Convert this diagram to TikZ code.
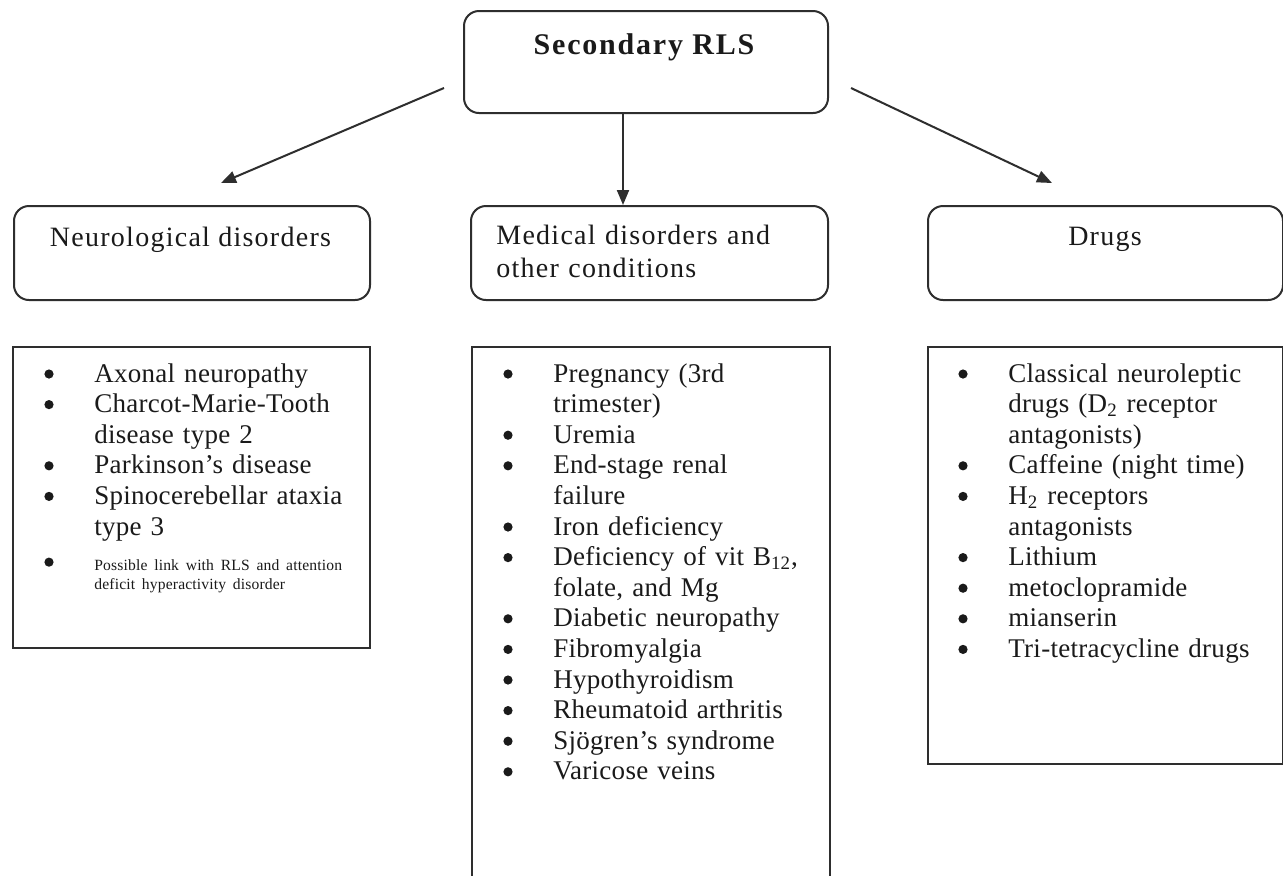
\documentclass[tikz,border=0pt]{standalone}
\usepackage{fontspec}
\setmainfont{Liberation Serif}
\usetikzlibrary{arrows.meta}
\definecolor{ln}{HTML}{2E2E2E}
\definecolor{tx}{HTML}{1A1A1A}
\newcommand\bul{\makebox[25pt][l]{\tikz[baseline=-4pt]\fill[tx] (0,0) circle (2.3pt);}}
\newcommand\bitem[1]{\noindent\hangindent=25pt\hangafter=1\bul#1\par}
\tikzset{
  rbox/.style={draw=ln, line width=1pt, rounded corners=7.5pt, inner sep=0pt, anchor=north west},
  lbox/.style={draw=ln, line width=1pt, inner sep=0pt, anchor=north west},
  arr/.style={draw=ln, line width=1pt, -{Triangle[length=7.5pt,width=6pt]}},
  hdr/.style={text=tx, inner sep=0pt, font=\fontsize{14}{16.5}\selectfont\addfontfeature{LetterSpace=4.5}},
  lst/.style={text=tx, inner sep=0pt, anchor=base west, text width=175pt, align=left,
    font=\fontsize{13.5}{15.3}\selectfont\addfontfeature{LetterSpace=1}},
}
\begin{document}
\begin{tikzpicture}[x=0.5pt, y=-0.5pt]
\useasboundingbox (0,0) rectangle (1283,875);
\clip (0,0) rectangle (1283,875);
\fill[white] (0,0) rectangle (1283,875);

% top box
\node[rbox, minimum width=182pt, minimum height=51pt] (root) at (463,10) {};
\node[text=tx, inner sep=0pt, anchor=base,
  font=\bfseries\fontsize{15}{18}\selectfont\addfontfeature{LetterSpace=6}] (title) at (644,54) {Secondary RLS};

% header boxes
\node[rbox, minimum width=178pt, minimum height=47pt] (neuh) at (13,205) {};
\node[rbox, minimum width=178.5pt, minimum height=47pt] (medh) at (470,205) {};
\node[rbox, minimum width=177.5pt, minimum height=47pt] (drgh) at (927,205) {};

\node[hdr, anchor=base] (neut) at (190.5,246) {Neurological disorders};
\node[hdr, anchor=base west, text width=160pt, align=left] (medt) at (496,244) {Medical disorders and\\ other conditions};
\node[hdr, anchor=base] (drgt) at (1105,245) {Drugs};

% arrows
\coordinate (ls) at (444,88);
\coordinate (le) at (221,183);
\coordinate (rs) at (851,88);
\coordinate (re) at (1052,183);
\coordinate (mx) at (623,0);
\draw[arr] (ls) -- (le);
\draw[arr] (root.south -| mx) -- (medh.north -| mx);
\draw[arr] (rs) -- (re);

% list boxes
\node[lbox, minimum width=178.5pt, minimum height=150.5pt] (neul) at (12,346) {};
\node[lbox, minimum width=179pt, minimum height=268pt] (medl) at (471,346) {};
\node[lbox, minimum width=177.5pt, minimum height=208.5pt] (drgl) at (927,346) {};

% list texts
\node[lst] (neux) at (44,382) {%
\bitem{Axonal neuropathy}
\bitem{Charcot-Marie-Tooth\newline disease type 2}
\bitem{Parkinson's disease}
\bitem{Spinocerebellar ataxia\newline type 3}
{\vspace{7pt}\noindent\bul\fontsize{7.8}{9.5}\selectfont\spaceskip=3.4pt plus 0.5pt
 \begin{tabular}[t]{@{}l@{}}Possible link with RLS and attention\\ deficit hyperactivity disorder\end{tabular}\par}%
};

\node[lst] (medx) at (503,382) {%
\bitem{Pregnancy (3rd\newline trimester)}
\bitem{Uremia}
\bitem{End-stage renal\newline failure}
\bitem{Iron deficiency}
\bitem{Deficiency of vit B\textsubscript{12},\newline folate, and Mg}
\bitem{Diabetic neuropathy}
\bitem{Fibromyalgia}
\bitem{Hypothyroidism}
\bitem{Rheumatoid arthritis}
\bitem{Sjögren's syndrome}
\bitem{Varicose veins}%
};

\node[lst] (drgx) at (958,382) {%
\bitem{Classical neuroleptic\newline drugs (D\textsubscript{2} receptor\newline antagonists)}
\bitem{Caffeine (night time)}
\bitem{H\textsubscript{2} receptors\newline antagonists}
\bitem{Lithium}
\bitem{metoclopramide}
\bitem{mianserin}
\bitem{Tri-tetracycline drugs}%
};
\end{tikzpicture}
\end{document}
